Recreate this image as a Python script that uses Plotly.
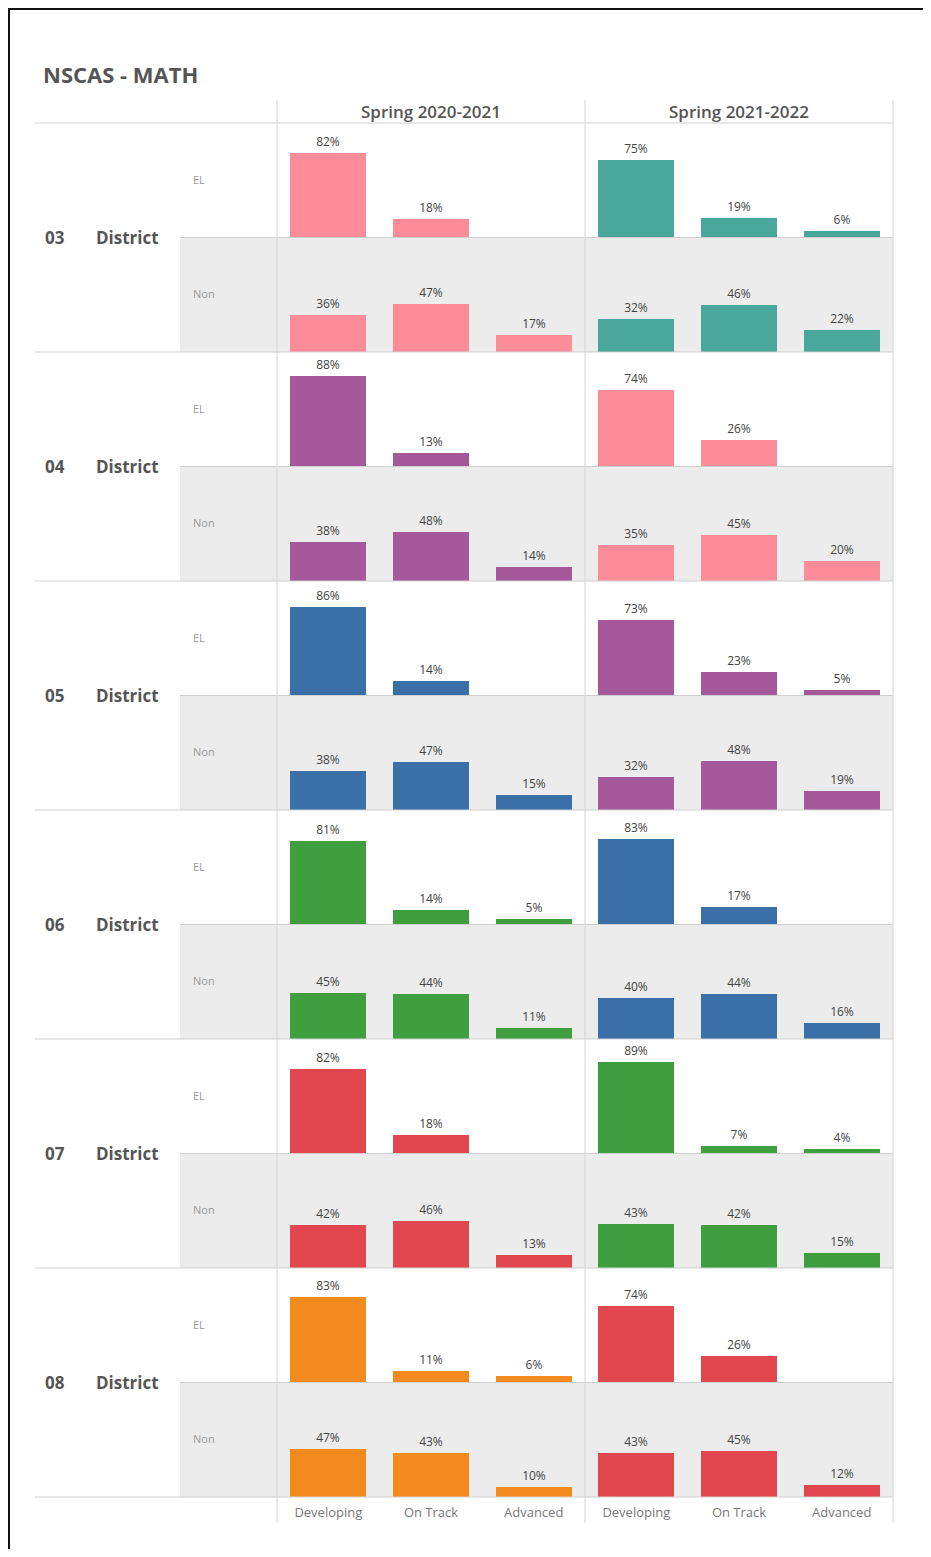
import plotly.graph_objects as go

# ---------------- data ----------------
grades = ["03", "04", "05", "06", "07", "08"]
years = ["Spring 2020-2021", "Spring 2021-2022"]
groups = ["EL", "Non"]
levels = ["Developing", "On Track", "Advanced"]

# per grade: [Developing, On Track, Advanced]  (None = no bar)
el_2021 = [[82, 18, None], [88, 13, None], [86, 14, None], [81, 14, 5], [82, 18, None], [83, 11, 6]]
non_2021 = [[36, 47, 17], [38, 48, 14], [38, 47, 15], [45, 44, 11], [42, 46, 13], [47, 43, 10]]
el_2122 = [[75, 19, 6], [74, 26, None], [73, 23, 5], [83, 17, None], [89, 7, 4], [74, 26, None]]
non_2122 = [[32, 46, 22], [35, 45, 20], [32, 48, 19], [40, 44, 16], [43, 42, 15], [43, 45, 12]]

colors_2021 = ["#fd8c99", "#a5589a", "#3b6fa8", "#3f9e3d", "#e2474f", "#f28a1e"]
colors_2122 = ["#4aa79b", "#fd8c99", "#a5589a", "#3b6fa8", "#3f9e3d", "#e2474f"]

# ---------------- layout geometry (page pixels; body has 8px margin) ----------------
OFF = 8
W, H = 915, 1541
def px(x):
    return (x - OFF) / W
def py(y):
    return 1 - (y - OFF) / H

col_edges = [(277, 585), (585, 893)]
top0 = 123
block = 229
half = block / 2
ymax = 111

fig = go.Figure()
layout_axes = {}
shapes = []
annotations = []

FONT = "Open Sans"
k = 0
for g in range(6):
    top = top0 + g * block
    for s in range(2):
        ytop = top + s * half
        ybot = ytop + half
        for c in range(2):
            k += 1
            xa = "x" if k == 1 else f"x{k}"
            ya = "y" if k == 1 else f"y{k}"
            if c == 0:
                vals = (el_2021 if s == 0 else non_2021)[g]
                color = colors_2021[g]
            else:
                vals = (el_2122 if s == 0 else non_2122)[g]
                color = colors_2122[g]
            texts = [f"{v}%" if v is not None else "" for v in vals]
            fig.add_trace(go.Bar(
                x=levels, y=vals, xaxis=xa, yaxis=ya,
                marker=dict(color=color, line=dict(width=0)),
                width=0.74,
                text=texts, textposition="outside",
                textfont=dict(size=12, color="#444", family=FONT),
                cliponaxis=False, showlegend=False, hoverinfo="skip",
            ))
            bottom_row = (g == 5 and s == 1)
            layout_axes["xaxis" if k == 1 else f"xaxis{k}"] = dict(
                domain=[px(col_edges[c][0]), px(col_edges[c][1])],
                anchor=ya, type="category", categoryorder="array",
                categoryarray=levels, range=[-0.5, 2.5],
                showgrid=False, zeroline=False, showline=False, ticks="",
                showticklabels=bottom_row, ticklabelstandoff=6,
                tickfont=dict(size=13, color="#777", family=FONT),
                fixedrange=True,
            )
            layout_axes["yaxis" if k == 1 else f"yaxis{k}"] = dict(
                domain=[py(ybot), py(ytop)], anchor=xa, range=[0, ymax],
                showgrid=False, zeroline=False, showline=False,
                showticklabels=False, ticks="", fixedrange=True,
            )
        # grey background for Non sub-row
        if s == 1:
            shapes.append(dict(type="rect", xref="paper", yref="paper",
                               x0=px(180), x1=px(893), y0=py(ybot), y1=py(ytop),
                               fillcolor="#ececec", line=dict(width=0), layer="below"))
        # sub-row labels
        annotations.append(dict(text=groups[s], x=px(191), y=py(ytop + half * 0.5 - 1),
                                xref="paper", yref="paper", xanchor="left", yanchor="middle",
                                showarrow=False, font=dict(size=11, color="#999", family=FONT)))
    # EL/Non separator
    shapes.append(dict(type="line", xref="paper", yref="paper",
                       x0=px(180), x1=px(893), y0=py(top + half), y1=py(top + half),
                       line=dict(color="#cfcfcf", width=1)))
    # grade separator (bottom)
    shapes.append(dict(type="line", xref="paper", yref="paper",
                       x0=px(35), x1=px(893), y0=py(top + block), y1=py(top + block),
                       line=dict(color="#cfcfcf", width=1)))
    # grade labels
    annotations.append(dict(text=f"<b>{grades[g]}</b>", x=px(43), y=py(top + half),
                            xref="paper", yref="paper", xanchor="left", yanchor="middle",
                            showarrow=False, font=dict(size=17, color="#555", family=FONT)))
    annotations.append(dict(text="<b>District</b>", x=px(94), y=py(top + half),
                            xref="paper", yref="paper", xanchor="left", yanchor="middle",
                            showarrow=False, font=dict(size=17, color="#555", family=FONT)))

# header line
shapes.append(dict(type="line", xref="paper", yref="paper",
                   x0=px(35), x1=px(893), y0=py(top0), y1=py(top0),
                   line=dict(color="#cfcfcf", width=1)))
# vertical column lines
for xv in (277, 585, 893):
    shapes.append(dict(type="line", xref="paper", yref="paper",
                       x0=px(xv), x1=px(xv), y0=py(100), y1=py(1523),
                       line=dict(color="#d4d4d4", width=1)))
# frame (top and left black border)
shapes.append(dict(type="line", xref="paper", yref="paper",
                   x0=0, x1=1, y0=1 - 1 / H, y1=1 - 1 / H, line=dict(color="#111", width=2)))
shapes.append(dict(type="line", xref="paper", yref="paper",
                   x0=1 / W, x1=1 / W, y0=1, y1=0, line=dict(color="#111", width=2)))

# column headers
for c in range(2):
    annotations.append(dict(text=years[c], x=px((col_edges[c][0] + col_edges[c][1]) / 2), y=py(111),
                            xref="paper", yref="paper", xanchor="center", yanchor="middle",
                            showarrow=False,
                            font=dict(size=17, color="#555", family=FONT, weight=600)))
# title
annotations.append(dict(text="<b>NSCAS - MATH</b>", x=px(41), y=py(74),
                        xref="paper", yref="paper", xanchor="left", yanchor="middle",
                        showarrow=False, font=dict(size=22, color="#555", family=FONT)))

fig.update_layout(
    width=W, height=H,
    margin=dict(l=0, r=0, t=0, b=0),
    paper_bgcolor="white", plot_bgcolor="rgba(0,0,0,0)",
    shapes=shapes, annotations=annotations,
    bargap=0, showlegend=False,
    **layout_axes,
)

fig.write_html("out.html")
